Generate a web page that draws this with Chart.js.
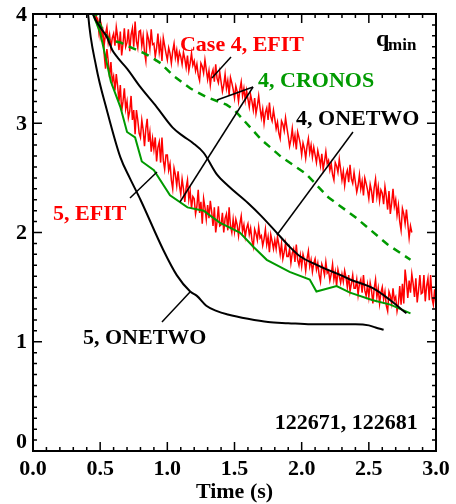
<!DOCTYPE html>
<html>
<head>
<meta charset="utf-8">
<script src="https://cdn.jsdelivr.net/npm/chart.js@4"></script>
<style>
  body { margin: 0; background: #fff; }
  canvas { display: block; }
</style>
</head>
<body>
<canvas id="chart" width="456" height="504"></canvas>
<script>
// Tick labels
const xTickLabels = ["0.0", "0.5", "1.0", "1.5", "2.0", "2.5", "3.0"];
const yTickLabels = ["0", "1", "2", "3", "4"];

// Case 4, EFIT (red, noisy)
const efit4Time = [
    0.44, 0.45, 0.46, 0.47, 0.48, 0.49,
    0.50, 0.51, 0.52, 0.53, 0.54, 0.55, 0.56, 0.57, 0.58, 0.59,
    0.60, 0.61, 0.62, 0.63, 0.64, 0.65, 0.66, 0.67, 0.68, 0.69,
    0.70, 0.71, 0.72, 0.73, 0.74, 0.75, 0.76, 0.77, 0.78, 0.79,
    0.80, 0.81, 0.82, 0.83, 0.84, 0.85, 0.86, 0.87, 0.88, 0.89,
    0.90, 0.91, 0.92, 0.93, 0.94, 0.95, 0.96, 0.97, 0.98, 0.99,
    1.00, 1.01, 1.02, 1.03, 1.04, 1.05, 1.06, 1.07, 1.08, 1.09,
    1.10, 1.11, 1.12, 1.13, 1.14, 1.15, 1.16, 1.17, 1.18, 1.19,
    1.20, 1.21, 1.22, 1.23, 1.24, 1.25, 1.26, 1.27, 1.28, 1.29,
    1.30, 1.31, 1.32, 1.33, 1.34, 1.35, 1.36, 1.37, 1.38, 1.39,
    1.40, 1.41, 1.42, 1.43, 1.44, 1.45, 1.46, 1.47, 1.48, 1.49,
    1.50, 1.51, 1.52, 1.53, 1.54, 1.55, 1.56, 1.57, 1.58, 1.59,
    1.60, 1.61, 1.62, 1.63, 1.64, 1.65, 1.66, 1.67, 1.68, 1.69,
    1.70, 1.71, 1.72, 1.73, 1.74, 1.75, 1.76, 1.77, 1.78, 1.79,
    1.80, 1.81, 1.82, 1.83, 1.84, 1.85, 1.86, 1.87, 1.88, 1.89,
    1.90, 1.91, 1.92, 1.93, 1.94, 1.95, 1.96, 1.97, 1.98, 1.99,
    2.00, 2.01, 2.02, 2.03, 2.04, 2.05, 2.06, 2.07, 2.08, 2.09,
    2.10, 2.11, 2.12, 2.13, 2.14, 2.15, 2.16, 2.17, 2.18, 2.19,
    2.20, 2.21, 2.22, 2.23, 2.24, 2.25, 2.26, 2.27, 2.28, 2.29,
    2.30, 2.31, 2.32, 2.33, 2.34, 2.35, 2.36, 2.37, 2.38, 2.39,
    2.40, 2.41, 2.42, 2.43, 2.44, 2.45, 2.46, 2.47, 2.48, 2.49,
    2.50, 2.51, 2.52, 2.53, 2.54, 2.55, 2.56, 2.57, 2.58, 2.59,
    2.60, 2.61, 2.62, 2.63, 2.64, 2.65, 2.66, 2.67, 2.68, 2.69,
    2.70, 2.71, 2.72, 2.73, 2.74, 2.75, 2.76, 2.77, 2.78, 2.79,
    2.80, 2.81, 2.82
];
const efit4Q = [
    4.15, 4.10, 4.00, 3.99, 3.90, 3.93,
    3.80, 3.89, 3.82, 3.72, 3.82, 3.88, 3.74, 3.81, 3.69, 3.78,
    3.82, 3.71, 3.88, 3.79, 3.67, 3.84, 3.62, 3.73, 3.87, 3.70,
    3.74, 3.86, 3.66, 3.81, 3.87, 3.70, 3.93, 3.75, 3.69, 3.84,
    3.85, 3.71, 3.80, 3.65, 3.57, 3.82, 3.77, 3.68, 3.86, 3.72,
    3.73, 3.61, 3.69, 3.82, 3.65, 3.74, 3.57, 3.78, 3.71, 3.64,
    3.58, 3.69, 3.64, 3.55, 3.66, 3.73, 3.60, 3.67, 3.56, 3.65,
    3.61, 3.54, 3.65, 3.59, 3.51, 3.62, 3.48, 3.55, 3.64, 3.53,
    3.57, 3.48, 3.54, 3.44, 3.39, 3.55, 3.52, 3.46, 3.58, 3.49,
    3.40, 3.48, 3.35, 3.45, 3.49, 3.38, 3.54, 3.41, 3.37, 3.47,
    3.38, 3.29, 3.35, 3.45, 3.32, 3.39, 3.26, 3.42, 3.37, 3.31,
    3.23, 3.34, 3.29, 3.20, 3.31, 3.38, 3.25, 3.32, 3.21, 3.30,
    3.22, 3.15, 3.26, 3.20, 3.12, 3.23, 3.09, 3.16, 3.25, 3.14,
    3.05, 3.13, 3.00, 3.10, 3.14, 3.03, 3.19, 3.06, 3.02, 3.12,
    3.04, 2.95, 3.01, 2.91, 2.86, 3.02, 2.99, 2.93, 3.05, 2.96,
    2.88, 2.79, 2.85, 2.95, 2.82, 2.89, 2.76, 2.92, 2.87, 2.81,
    2.71, 2.82, 2.77, 2.68, 2.79, 2.86, 2.73, 2.80, 2.69, 2.78,
    2.71, 2.64, 2.75, 2.69, 2.61, 2.72, 2.58, 2.65, 2.74, 2.63,
    2.66, 2.57, 2.63, 2.53, 2.48, 2.64, 2.61, 2.55, 2.67, 2.58,
    2.48, 2.56, 2.43, 2.53, 2.57, 2.46, 2.62, 2.49, 2.45, 2.55,
    2.46, 2.37, 2.43, 2.53, 2.40, 2.47, 2.34, 2.50, 2.45, 2.39,
    2.31, 2.44, 2.38, 2.27, 2.41, 2.49, 2.33, 2.42, 2.29, 2.39,
    2.36, 2.26, 2.42, 2.33, 2.21, 2.38, 2.17, 2.27, 2.40, 2.24,
    2.30, 2.16, 2.25, 2.10, 2.02, 2.22, 2.17, 2.08, 2.21, 2.08,
    1.95, 2.06, 2.00
];

// Case 5, EFIT (red, noisy)
const efit5Time = [
    0.44, 0.45, 0.46, 0.47, 0.48, 0.49,
    0.50, 0.51, 0.52, 0.53, 0.54, 0.55, 0.56, 0.57, 0.58, 0.59,
    0.60, 0.61, 0.62, 0.63, 0.64, 0.65, 0.66, 0.67, 0.68, 0.69,
    0.70, 0.71, 0.72, 0.73, 0.74, 0.75, 0.76, 0.77, 0.78, 0.79,
    0.80, 0.81, 0.82, 0.83, 0.84, 0.85, 0.86, 0.87, 0.88, 0.89,
    0.90, 0.91, 0.92, 0.93, 0.94, 0.95, 0.96, 0.97, 0.98, 0.99,
    1.00, 1.01, 1.02, 1.03, 1.04, 1.05, 1.06, 1.07, 1.08, 1.09,
    1.10, 1.11, 1.12, 1.13, 1.14, 1.15, 1.16, 1.17, 1.18, 1.19,
    1.20, 1.21, 1.22, 1.23, 1.24, 1.25, 1.26, 1.27, 1.28, 1.29,
    1.30, 1.31, 1.32, 1.33, 1.34, 1.35, 1.36, 1.37, 1.38, 1.39,
    1.40, 1.41, 1.42, 1.43, 1.44, 1.45, 1.46, 1.47, 1.48, 1.49,
    1.50, 1.51, 1.52, 1.53, 1.54, 1.55, 1.56, 1.57, 1.58, 1.59,
    1.60, 1.61, 1.62, 1.63, 1.64, 1.65, 1.66, 1.67, 1.68, 1.69,
    1.70, 1.71, 1.72, 1.73, 1.74, 1.75, 1.76, 1.77, 1.78, 1.79,
    1.80, 1.81, 1.82, 1.83, 1.84, 1.85, 1.86, 1.87, 1.88, 1.89,
    1.90, 1.91, 1.92, 1.93, 1.94, 1.95, 1.96, 1.97, 1.98, 1.99,
    2.00, 2.01, 2.02, 2.03, 2.04, 2.05, 2.06, 2.07, 2.08, 2.09,
    2.10, 2.11, 2.12, 2.13, 2.14, 2.15, 2.16, 2.17, 2.18, 2.19,
    2.20, 2.21, 2.22, 2.23, 2.24, 2.25, 2.26, 2.27, 2.28, 2.29,
    2.30, 2.31, 2.32, 2.33, 2.34, 2.35, 2.36, 2.37, 2.38, 2.39,
    2.40, 2.41, 2.42, 2.43, 2.44, 2.45, 2.46, 2.47, 2.48, 2.49,
    2.50, 2.51, 2.52, 2.53, 2.54, 2.55, 2.56, 2.57, 2.58, 2.59,
    2.60, 2.61, 2.62, 2.63, 2.64, 2.65, 2.66, 2.67, 2.68, 2.69,
    2.70, 2.71, 2.72, 2.73, 2.74, 2.75, 2.76, 2.77, 2.78, 2.79,
    2.80, 2.81, 2.82, 2.83, 2.84, 2.85, 2.86, 2.87, 2.88, 2.89,
    2.90, 2.91, 2.92, 2.93, 2.94, 2.95, 2.96, 2.97, 2.98, 2.99,
    3.00
];
const efit5Q = [
    4.25, 4.12, 4.09, 3.95, 3.96, 3.84,
    3.96, 3.79, 3.84, 3.63, 3.50, 3.68, 3.57, 3.42, 3.56, 3.38,
    3.43, 3.30, 3.45, 3.34, 3.20, 3.35, 3.11, 3.20, 3.32, 3.13,
    3.20, 3.05, 3.11, 3.25, 3.03, 3.12, 2.90, 3.12, 3.03, 2.91,
    2.87, 3.03, 2.94, 2.79, 2.95, 3.04, 2.83, 2.92, 2.74, 2.86,
    2.76, 2.87, 2.65, 2.78, 2.83, 2.64, 2.87, 2.66, 2.58, 2.71,
    2.71, 2.57, 2.63, 2.48, 2.40, 2.59, 2.53, 2.43, 2.56, 2.43,
    2.35, 2.49, 2.40, 2.28, 2.41, 2.48, 2.30, 2.38, 2.22, 2.33,
    2.31, 2.17, 2.24, 2.39, 2.18, 2.28, 2.08, 2.31, 2.23, 2.12,
    2.25, 2.13, 2.29, 2.19, 2.06, 2.23, 2.00, 2.10, 2.24, 2.06,
    2.07, 2.18, 2.00, 2.13, 2.17, 2.02, 2.23, 2.06, 2.00, 2.12,
    2.01, 2.12, 2.07, 1.97, 2.08, 2.15, 2.01, 2.07, 1.96, 2.04,
    2.08, 1.98, 2.04, 1.93, 1.87, 2.03, 1.99, 1.93, 2.05, 1.95,
    1.97, 1.88, 1.94, 2.03, 1.89, 1.96, 1.82, 1.98, 1.92, 1.85,
    1.93, 1.85, 1.96, 1.89, 1.80, 1.90, 1.76, 1.82, 1.90, 1.78,
    1.78, 1.85, 1.72, 1.81, 1.85, 1.73, 1.89, 1.75, 1.70, 1.79,
    1.69, 1.80, 1.75, 1.65, 1.76, 1.83, 1.69, 1.75, 1.64, 1.72,
    1.76, 1.66, 1.72, 1.61, 1.55, 1.71, 1.67, 1.61, 1.73, 1.63,
    1.65, 1.56, 1.62, 1.71, 1.57, 1.64, 1.51, 1.66, 1.60, 1.54,
    1.62, 1.55, 1.65, 1.59, 1.50, 1.61, 1.46, 1.53, 1.61, 1.49,
    1.49, 1.57, 1.43, 1.53, 1.57, 1.45, 1.61, 1.47, 1.42, 1.52,
    1.41, 1.54, 1.47, 1.35, 1.49, 1.57, 1.41, 1.49, 1.35, 1.45,
    1.50, 1.39, 1.46, 1.33, 1.28, 1.46, 1.42, 1.35, 1.49, 1.38,
    1.41, 1.28, 1.35, 1.51, 1.34, 1.53, 1.35, 1.66, 1.55, 1.40,
    1.56, 1.45, 1.62, 1.53, 1.41, 1.58, 1.36, 1.47, 1.61, 1.44,
    1.45, 1.61, 1.37, 1.51, 1.58, 1.38, 1.61, 1.40, 1.34, 1.48,
    1.32
];

// Case 4, CRONOS (green dashed)
const cronos4Time = [0.45, 0.50, 0.52, 0.57, 0.65, 0.72, 0.81, 0.86, 0.95, 1.04, 1.17, 1.29, 1.44, 1.50, 1.70, 1.85, 2.03, 2.20, 2.40, 2.64, 2.81];
const cronos4Q = [4.05, 3.90, 3.85, 3.76, 3.74, 3.70, 3.65, 3.62, 3.55, 3.44, 3.32, 3.24, 3.17, 3.12, 2.85, 2.69, 2.54, 2.32, 2.14, 1.89, 1.75];

// Case 5, CRONOS (green solid)
const cronos5Time = [0.42, 0.45, 0.50, 0.58, 0.65, 0.70, 0.76, 0.81, 0.90, 1.02, 1.15, 1.27, 1.39, 1.54, 1.64, 1.74, 1.91, 2.06, 2.11, 2.26, 2.36, 2.53, 2.66, 2.81];
const cronos5Q = [4.15, 3.99, 3.83, 3.38, 3.15, 2.92, 2.87, 2.65, 2.57, 2.34, 2.23, 2.20, 2.09, 2.00, 1.87, 1.75, 1.64, 1.57, 1.46, 1.51, 1.45, 1.38, 1.34, 1.26];

// Case 4, ONETWO (black)
const onetwo4Time = [0.42, 0.45, 0.50, 0.55, 0.59, 0.63, 0.70, 0.80, 0.92, 1.04, 1.12, 1.19, 1.27, 1.37, 1.45, 1.60, 1.70, 1.82, 1.91, 1.99, 2.10, 2.19, 2.29, 2.36, 2.53, 2.66, 2.78];
const onetwo4Q = [4.15, 3.99, 3.88, 3.79, 3.67, 3.60, 3.50, 3.33, 3.15, 2.96, 2.88, 2.82, 2.73, 2.53, 2.43, 2.27, 2.15, 1.99, 1.87, 1.78, 1.71, 1.66, 1.61, 1.57, 1.49, 1.38, 1.26];

// Case 5, ONETWO (black)
const onetwo5Time = [0.40, 0.41, 0.47, 0.55, 0.65, 0.72, 0.80, 0.97, 1.07, 1.17, 1.22, 1.29, 1.37, 1.45, 1.60, 1.75, 1.90, 2.07, 2.25, 2.40, 2.50, 2.55, 2.61];
const onetwo5Q = [4.20, 4.00, 3.52, 3.12, 2.69, 2.50, 2.30, 1.84, 1.61, 1.46, 1.42, 1.33, 1.28, 1.25, 1.21, 1.18, 1.17, 1.16, 1.16, 1.16, 1.15, 1.13, 1.11];

const RED = "#ff0000";
const GREEN = "#009a00";
const BLACK = "#000000";
const FONT = "'Liberation Serif', 'Times New Roman', serif";

// Text notes (data coordinates of the left end of the baseline)
const notes = [
    { text: "Case 4, EFIT", x: 1.094, y: 3.661, color: RED },
    { text: "4, CRONOS", x: 1.675, y: 3.332, color: GREEN },
    { text: "4, ONETWO", x: 1.958, y: 2.984, color: BLACK },
    { text: "5, EFIT", x: 0.149, y: 2.114, color: RED },
    { text: "5, ONETWO", x: 0.372, y: 0.979, color: BLACK },
    { text: "122671, 122681", x: 1.800, y: 0.201, color: BLACK }
];

// Pointer lines from the notes to the curves
const pointers = [
    [1.332, 3.414, 1.474, 3.606],
    [1.638, 3.332, 1.370, 3.213],
    [1.638, 3.332, 1.094, 2.279],
    [2.382, 2.920, 1.816, 1.977],
    [0.722, 2.316, 0.923, 2.554],
    [0.960, 1.181, 1.169, 1.455]
];

function toPoints(xs, ys) {
    return xs.map((x, i) => ({ x: x, y: ys[i] }));
}

function findLabel(list, value) {
    const hit = list.find(l => Math.abs(parseFloat(l) - value) < 1e-6);
    return hit === undefined ? "" : hit;
}

// Frame, inward ticks, y labels, pointer lines and notes
const decorations = {
    id: "decorations",
    afterDatasetsDraw(chart) {
        const { ctx, chartArea: a, scales: { x, y } } = chart;
        ctx.save();

        // pointer lines
        ctx.strokeStyle = BLACK;
        ctx.lineWidth = 1.5;
        pointers.forEach(p => {
            ctx.beginPath();
            ctx.moveTo(x.getPixelForValue(p[0]), y.getPixelForValue(p[1]));
            ctx.lineTo(x.getPixelForValue(p[2]), y.getPixelForValue(p[3]));
            ctx.stroke();
        });

        // notes
        ctx.textBaseline = "alphabetic";
        ctx.textAlign = "left";
        ctx.font = "bold 22px " + FONT;
        notes.forEach(n => {
            ctx.fillStyle = n.color;
            ctx.fillText(n.text, x.getPixelForValue(n.x), y.getPixelForValue(n.y));
        });

        // q_min
        ctx.fillStyle = BLACK;
        ctx.font = "bold 24px " + FONT;
        ctx.fillText("q", x.getPixelForValue(2.553), y.getPixelForValue(3.707));
        ctx.font = "bold 17px " + FONT;
        ctx.fillText("min", x.getPixelForValue(2.643), y.getPixelForValue(3.67));

        // y tick labels (the bottom one sits a little above the corner)
        ctx.font = "bold 22px " + FONT;
        ctx.textAlign = "right";
        ctx.textBaseline = "middle";
        yTickLabels.forEach(l => {
            const v = parseFloat(l);
            const py = y.getPixelForValue(v) + (v === 0 ? -9 : 1);
            ctx.fillText(l, a.left - 6, py);
        });

        // frame
        ctx.strokeStyle = BLACK;
        ctx.lineWidth = 2;
        ctx.strokeRect(a.left, a.top, a.right - a.left, a.bottom - a.top);

        // ticks, pointing inwards
        ctx.lineWidth = 1.5;
        ctx.beginPath();
        for (let i = 0; i <= 30; i++) {
            const px = x.getPixelForValue(i / 10);
            const len = i % 5 === 0 ? 9 : 4;
            ctx.moveTo(px, a.bottom);
            ctx.lineTo(px, a.bottom - len);
            ctx.moveTo(px, a.top);
            ctx.lineTo(px, a.top + len);
        }
        for (let i = 0; i <= 40; i++) {
            const py = y.getPixelForValue(i / 10);
            const len = i % 10 === 0 ? 9 : 4;
            ctx.moveTo(a.left, py);
            ctx.lineTo(a.left + len, py);
            ctx.moveTo(a.right, py);
            ctx.lineTo(a.right - len, py);
        }
        ctx.stroke();
        ctx.restore();
    }
};

const ctx = document.getElementById("chart").getContext("2d");

new Chart(ctx, {
    type: "line",
    data: {
        datasets: [
            {
                data: toPoints(onetwo5Time, onetwo5Q),
                borderColor: BLACK, borderWidth: 2, cubicInterpolationMode: "monotone"
            },
            {
                data: toPoints(onetwo4Time, onetwo4Q),
                borderColor: BLACK, borderWidth: 2, cubicInterpolationMode: "monotone"
            },
            {
                data: toPoints(cronos5Time, cronos5Q),
                borderColor: GREEN, borderWidth: 2
            },
            {
                data: toPoints(cronos4Time, cronos4Q),
                borderColor: GREEN, borderWidth: 2.5, borderDash: [8, 6]
            },
            {
                data: toPoints(efit4Time, efit4Q),
                borderColor: RED, borderWidth: 1.5
            },
            {
                data: toPoints(efit5Time, efit5Q),
                borderColor: RED, borderWidth: 1.5
            }
        ]
    },
    options: {
        responsive: false,
        animation: false,
        devicePixelRatio: 1,
        layout: { padding: { top: 14, right: 20, left: 0, bottom: 0 } },
        elements: { point: { radius: 0 }, line: { tension: 0 } },
        datasets: { line: { clip: 0 } },
        plugins: { legend: { display: false }, tooltip: { enabled: false } },
        scales: {
            x: {
                type: "linear",
                min: 0,
                max: 3,
                grid: { display: false },
                border: { display: false },
                afterFit: scale => {
                    scale.height = 53;
                    scale.paddingLeft = 0;
                    scale.paddingRight = 0;
                },
                ticks: {
                    stepSize: 0.5,
                    padding: -3,
                    maxRotation: 0,
                    color: BLACK,
                    font: { family: FONT, size: 22, weight: "bold" },
                    callback: v => findLabel(xTickLabels, v)
                },
                title: {
                    display: true,
                    text: "Time (s)",
                    color: BLACK,
                    padding: { top: 0, bottom: -2 },
                    font: { family: FONT, size: 22, weight: "bold" }
                }
            },
            y: {
                type: "linear",
                min: 0,
                max: 4,
                grid: { display: false },
                border: { display: false },
                afterFit: scale => {
                    scale.width = 33;
                    scale.paddingTop = 0;
                    scale.paddingBottom = 0;
                },
                ticks: { display: false, stepSize: 1 }
            }
        }
    },
    plugins: [decorations]
});
</script>
</body>
</html>
